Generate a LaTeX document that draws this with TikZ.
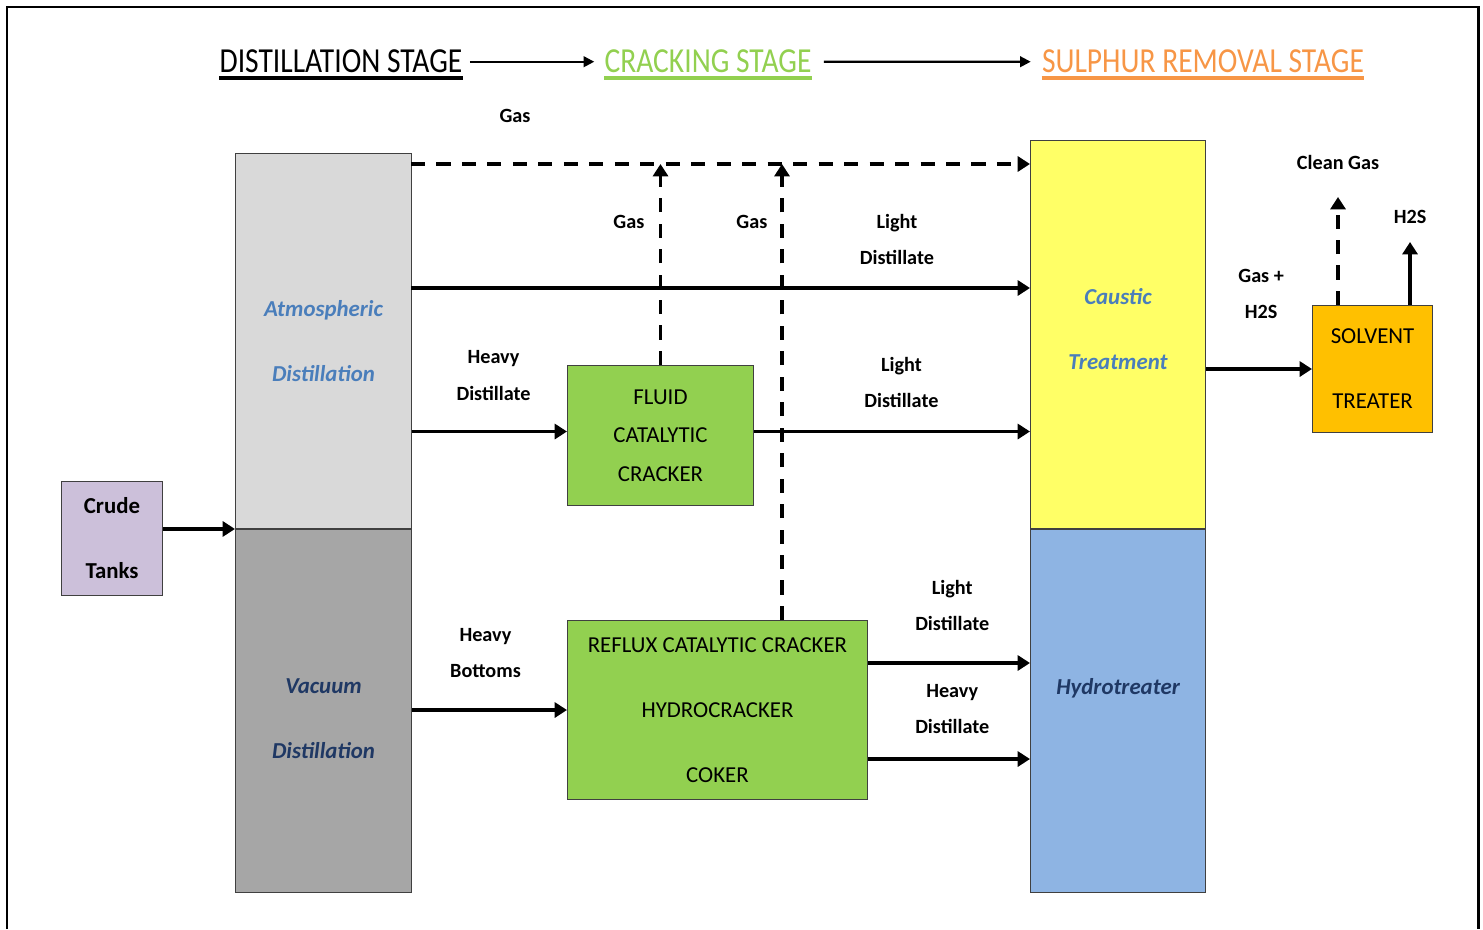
\documentclass[tikz,border=0pt]{standalone}
\usepackage{fontspec}
\setmainfont{Carlito}
\newfontfamily\headfont{Carlito}[FakeStretch=0.84]
\usetikzlibrary{positioning, arrows.meta, calc}
\definecolor{crudecol}{HTML}{CCC0DA}
\definecolor{atmcol}{HTML}{D9D9D9}
\definecolor{vaccol}{HTML}{A6A6A6}
\definecolor{crackcol}{HTML}{92D050}
\definecolor{causticcol}{HTML}{FFFF66}
\definecolor{hydrocol}{HTML}{8EB4E3}
\definecolor{solvcol}{HTML}{FFC000}
\definecolor{paleblue}{HTML}{4A7EBB}
\definecolor{navyblue}{HTML}{1F3864}
\definecolor{sulphcol}{HTML}{F79646}
\tikzset{
  unit/.style={
    rectangle,
    draw=black!75, semithick,
    inner sep=0pt,
    text centered,
    align=center,
    font=\fontsize{13}{37}\selectfont
  },
  column/.style={
    unit,
    font=\fontsize{13}{37}\selectfont\bfseries\itshape
  },
  flowtext/.style={
    inner sep=1pt,
    align=center,
    font=\fontsize{11.5}{20.5}\selectfont\bfseries
  },
  stage/.style={
    inner sep=0pt,
    font=\headfont\fontsize{20}{24}\selectfont
  },
  flow/.style={
    draw=black,
    line width=2.2pt,
    -{Triangle[length=7pt,width=8.5pt]}
  },
  gasflow/.style={
    flow,
    dash pattern=on 8pt off 6.5pt
  },
  stageflow/.style={
    draw=black,
    line width=1.2pt,
    -{Triangle[length=6pt,width=6pt]}
  }
}

\begin{document}
\begin{tikzpicture}[x=0.02cm, y=-0.02cm]
\useasboundingbox (0,0) rectangle (1483,929);
\draw[line width=1.7pt] (7,929) -- (7,7) -- (1478,7) -- (1478,929);

% stages
\node[stage, anchor=base] (dist) at (341,73) {DISTILLATION STAGE};
\node[stage, anchor=base, text=crackcol] (crack) at (708,73) {CRACKING STAGE};
\node[stage, anchor=base, text=sulphcol] (sulph) at (1203,73) {SULPHUR REMOVAL STAGE};
\draw[line width=2.3pt] ([yshift=-2.6pt]dist.south west) -- ([yshift=-2.6pt]dist.south east);
\draw[line width=2.3pt, crackcol] ([yshift=-2.6pt]crack.south west) -- ([yshift=-2.6pt]crack.south east);
\draw[line width=2.3pt, sulphcol] ([yshift=-2.6pt]sulph.south west) -- ([yshift=-2.6pt]sulph.south east);
\draw[stageflow, shorten <=0.14cm, shorten >=0.2cm] (dist.east) -- (crack.west);
\draw[stageflow, shorten <=0.24cm, shorten >=0.22cm] (crack.east) -- (sulph.west);

% nodes
\node[unit, fill=crudecol, font=\fontsize{13}{37}\selectfont\bfseries,
  minimum width=2.02cm, minimum height=2.28cm, anchor=north west] (crude) at (61,481)
{Crude\\Tanks};

\node[column, fill=atmcol, text=paleblue,
  minimum width=3.52cm, minimum height=7.5cm, anchor=north west] (atm) at (235,153)
{Atmospheric\\Distillation};

\node[column, fill=vaccol,
  minimum width=3.52cm, minimum height=7.26cm, below=0cm of atm] (vac) {};
\node[column, draw=none, text=navyblue] at ($(vac.center)+(0,8)$) {Vacuum\\Distillation};

\node[unit, fill=crackcol, font=\fontsize{13}{22}\selectfont,
  minimum width=3.72cm, minimum height=2.8cm, anchor=north west] (fcc) at (567,365)
{FLUID\\CATALYTIC\\CRACKER};

\node[unit, fill=crackcol,
  minimum width=6cm, minimum height=3.58cm, anchor=north west] (rcc) at (567,620)
{REFLUX CATALYTIC CRACKER\\HYDROCRACKER\\COKER};

\node[column, fill=causticcol,
  minimum width=3.5cm, minimum height=7.76cm, anchor=north west] (caustic) at (1030,140) {};
\node[column, draw=none, text=paleblue] at ($(caustic.center)+(0,-5)$) {Caustic\\Treatment};

\node[column, fill=hydrocol,
  minimum width=3.5cm, minimum height=7.26cm, below=0cm of caustic] (hydro) {};
\node[column, draw=none, text=navyblue] at ($(hydro.center)+(0,-23)$) {Hydrotreater};

\node[unit, fill=solvcol,
  minimum width=2.4cm, minimum height=2.54cm, anchor=north west] (solv) at (1312,305)
{SOLVENT\\TREATER};

% edges

%% distillation
\draw[flow] (crude.east |- vac.north west) -- (vac.north west);

\coordinate (gas) at (411,164);
\draw[gasflow] (gas) -- node[flowtext, pos=0.168, yshift=0.96cm]{Gas} (gas -| caustic.west);

\coordinate (ld) at (411,288);
\draw[flow] (ld) -- node[flowtext, pos=0.785, yshift=0.98cm]{Light\\Distillate} (ld -| caustic.west);

\coordinate (hd) at ($(fcc.west)+(0,-4)$);
\draw[flow] (atm.east |- hd) -- node[flowtext, pos=0.526, yshift=1.12cm]{Heavy\\Distillate} (hd);
\draw[flow] (vac.east |- rcc.west) -- node[flowtext, pos=0.474, yshift=1.14cm]{Heavy\\Bottoms} (rcc.west);

%% cracking
\draw[gasflow] (fcc.north) -- node[flowtext, pos=0.71, left=0.25cm]{Gas} (fcc.north |- gas);

\coordinate (rgas) at ($(rcc.north west)+(215,0)$);
\draw[gasflow] (rgas) -- node[flowtext, pos=0.873, left=0.22cm]{Gas} (rgas |- gas);

\coordinate (fl) at ($(fcc.east)+(0,-4)$);
\draw[flow] (fl) -- node[flowtext, pos=0.534, yshift=0.98cm]{Light\\Distillate} (fl -| caustic.west);

\coordinate (rl) at ($(rcc.north east)+(0,43)$);
\draw[flow] (rl) -- node[flowtext, pos=0.52, yshift=1.16cm]{Light\\Distillate} (rl -| hydro.west);

\coordinate (rh) at ($(rcc.south east)+(0,-41)$);
\draw[flow] (rh) -- node[flowtext, pos=0.52, yshift=1.0cm]{Heavy\\Distillate} (rh -| hydro.west);

%% sulphur removal
\draw[flow] (caustic.east |- solv.west) -- node[flowtext, pos=0.52, yshift=1.5cm]{Gas +\\H2S} (solv.west);

\coordinate (cg) at ($(solv.north west)+(26,0)$);
\draw[gasflow] (cg) -- ++(0,-108) node[flowtext, above=0.47cm]{Clean Gas};

\coordinate (hs) at ($(solv.north east)+(-23,0)$);
\draw[flow] (hs) -- ++(0,-63) node[flowtext, above=0.3cm]{H2S};
\end{tikzpicture}
\end{document}
